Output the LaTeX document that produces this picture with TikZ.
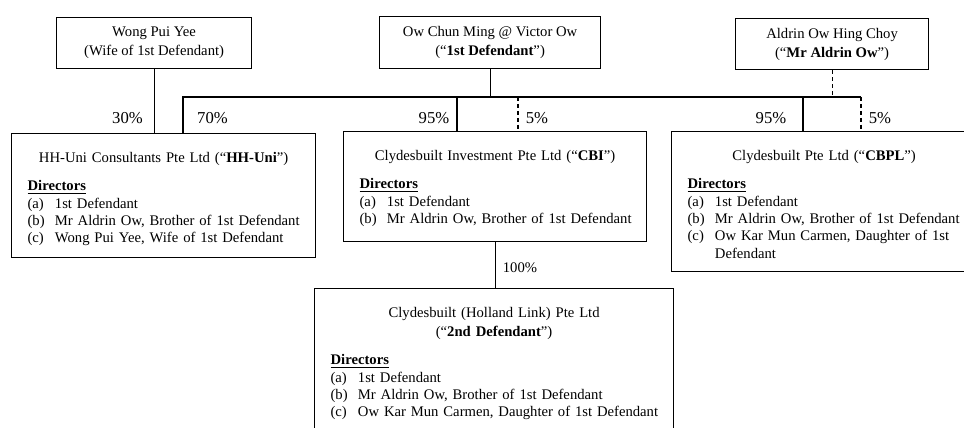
\documentclass[tikz,border=0pt]{standalone}
\usepackage{fontspec}
\setmainfont{Liberation Serif}
\usepackage{tikz}
\newcommand{\cotitle}[1]{{\centering\fontsize{11}{14.25}\selectfont #1\par}\vspace{8.5pt}}
\newcommand{\dirhead}{\underline{\textbf{Directors}}\par}
\newcommand{\ditem}[2]{\noindent\makebox[20.5pt][l]{#1}\mbox{#2}\par}

\begin{document}
\begin{tikzpicture}[
    x=0.75pt, y=-0.75pt,
    line width=0.9pt,
    person/.style={draw, align=center, anchor=north west, inner sep=2pt,
      font=\fontsize{11}{14.25}\selectfont},
    company/.style={draw, align=left, anchor=north west, inner xsep=12pt,
      inner ysep=0pt, text height=21.5pt, font=\fontsize{11}{13}\selectfont},
    pct/.style={inner sep=0pt, font=\fontsize{12.5}{14}\selectfont},
    minor/.style={dash pattern=on 3pt off 2.2pt}
    ]
    \useasboundingbox (0,0) rectangle (964,428);
    \clip (0,0) rectangle (964,428);
    \node[person, minimum width=146.25pt, minimum height=38.25pt] (wong) at (56,17)
      {Wong Pui Yee\\(Wife of 1st Defendant)};
    \node[person, minimum width=165.75pt, minimum height=39pt] (victor) at (379,16)
      {Ow Chun Ming @ Victor Ow\\(``\textbf{1st Defendant}'')};
    \node[person, minimum width=144.75pt, minimum height=38.25pt] (aldrin) at (735,18)
      {Aldrin Ow Hing Choy\\(``\textbf{Mr Aldrin Ow}'')};
    \node[company, text width=204pt, text depth=71.5pt] (hhuni) at (11,133)
      {\cotitle{HH-Uni Consultants Pte Ltd (``\textbf{HH-Uni}'')}\dirhead
       \ditem{(a)}{1st Defendant}
       \ditem{(b)}{Mr Aldrin Ow, Brother of 1st Defendant}
       \ditem{(c)}{Wong Pui Yee, Wife of 1st Defendant}};
    \node[company, text width=203.25pt, text depth=61pt] (cbi) at (343,131)
      {\cotitle{Clydesbuilt Investment Pte Ltd (``\textbf{CBI}'')}\dirhead
       \ditem{(a)}{1st Defendant}
       \ditem{(b)}{Mr Aldrin Ow, Brother of 1st Defendant}};
    \node[company, text width=204.75pt, text depth=83.5pt] (cbpl) at (671,131)
      {\cotitle{Clydesbuilt Pte Ltd (``\textbf{CBPL}'')}\dirhead
       \ditem{(a)}{1st Defendant}
       \ditem{(b)}{Mr Aldrin Ow, Brother of 1st Defendant}
       \ditem{(c)}{Ow Kar Mun Carmen, Daughter of 1st}
       \ditem{}{Defendant}};
    \node[company, text width=245.25pt, text depth=106pt] (hl) at (314,288)
      {\cotitle{Clydesbuilt (Holland Link) Pte Ltd\\(``\textbf{2nd Defendant}'')}\dirhead
       \ditem{(a)}{1st Defendant}
       \ditem{(b)}{Mr Aldrin Ow, Brother of 1st Defendant}
       \ditem{(c)}{Ow Kar Mun Carmen, Daughter of 1st Defendant}};
    \coordinate (busw) at (183,97);
    \coordinate (buse) at (861,97);
    \coordinate (cbi95) at (457,97);
    \coordinate (cbi5) at (518,97);
    \coordinate (cbpl95) at (803,97);
    \draw (wong.south) -- (wong.south |- hhuni.north);
    \draw (victor.south) -- (victor.south |- busw);
    \draw (hhuni.north -| busw) -- (busw) -- (buse);
    \draw (cbi95) -- (cbi95 |- cbi.north);
    \draw[minor] (cbi5) -- (cbi5 |- cbi.north);
    \draw (cbpl95) -- (cbpl95 |- cbpl.north);
    \draw[minor] (buse) -- (buse |- cbpl.north);
    \draw[minor] (aldrin.south) -- (aldrin.south |- buse);
    \draw (cbi.south) -- (cbi.south |- hl.north);
    \node[pct] (p30) at (127.5,118) {30\%};
    \node[pct] (p70) at (212.5,118) {70\%};
    \node[pct] (p95a) at (434,118) {95\%};
    \node[pct] (p5a) at (537,118) {5\%};
    \node[pct] (p95b) at (771,118) {95\%};
    \node[pct] (p5b) at (880,118) {5\%};
    \node[pct, font=\fontsize{11}{13}\selectfont] (p100) at (520,268) {100\%};
\end{tikzpicture}
\end{document}
